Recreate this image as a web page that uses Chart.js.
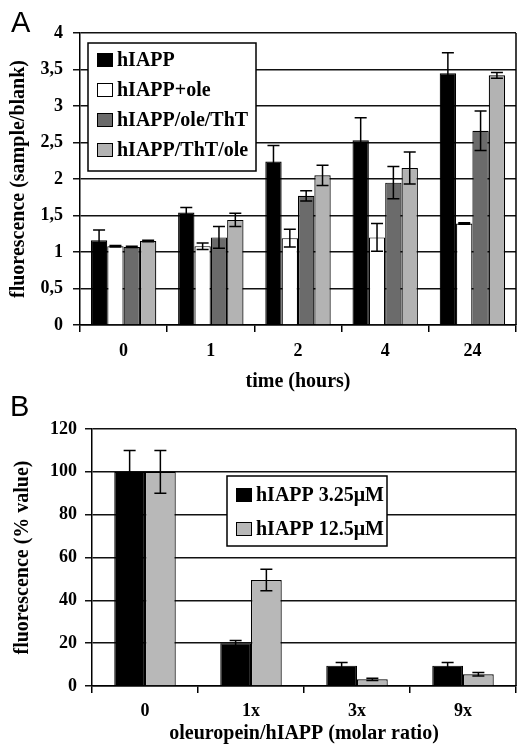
<!DOCTYPE html>
<html>
<head>
<meta charset="utf-8">
<script src="https://cdn.jsdelivr.net/npm/chart.js@4/dist/chart.umd.min.js"></script>
<style>
body{margin:0;background:#fff;}
#wrap{position:relative;width:520px;height:746px;overflow:hidden;}
.panel{position:absolute;left:0;}
.tag{position:absolute;font-family:'Liberation Sans',Arial,sans-serif;font-size:29px;line-height:29px;color:#000;}
</style>
</head>
<body>
<div id="wrap">
  <canvas id="chartA" class="panel" style="top:0" width="520" height="400"></canvas>
  <canvas id="chartB" class="panel" style="top:400px" width="520" height="346"></canvas>
  <div class="tag" style="left:11px;top:8px">A</div>
  <div class="tag" style="left:10px;top:392px">B</div>
</div>
<script>
// panel A : fluorescence vs time
const timeLabels = ['0', '1', '2', '4', '24'];
const hiapp      = [1.16, 1.54, 2.24, 2.53, 3.45];
const hiappErr   = [0.14, 0.07, 0.22, 0.31, 0.28];
const hiappOle   = [1.08, 1.08, 1.19, 1.20, 1.39];
const hiappOleErr= [0.01, 0.045, 0.12, 0.19, 0.01];
const oleTht     = [1.07, 1.20, 1.77, 1.95, 2.66];
const oleThtErr  = [0.01, 0.15, 0.07, 0.22, 0.27];
const thtOle     = [1.15, 1.44, 2.05, 2.15, 3.42];
const thtOleErr  = [0.01, 0.09, 0.14, 0.22, 0.04];

// panel B : fluorescence vs oleuropein ratio
const ratioLabels = ['0', '1x', '3x', '9x'];
const low     = [100, 20, 9.5, 9.5];
const lowErr  = [10, 1.3, 1.5, 1.5];
const high    = [100, 49.5, 3.1, 5.5];
const highErr = [10, 5, 0.5, 0.8];

const FONT = '"Liberation Serif", "Times New Roman", serif';
const tickFont = {family: FONT, size: 18, weight: 'bold'};
const titleFont = {family: FONT, size: 20, weight: 'bold', lineHeight: 1.2};

// error bars (symmetric, black)
const errorBars = {
	id: 'errorBars',
	afterDatasetsDraw(chart){
		const ctx = chart.ctx;
		const y = chart.scales.y;
		chart.data.datasets.forEach((ds, i) => {
			if(!ds.errors) return;
			const meta = chart.getDatasetMeta(i);
			meta.data.forEach((bar, j) => {
				const v = ds.data[j], e = ds.errors[j];
				const top = y.getPixelForValue(v + e);
				const bot = y.getPixelForValue(v - e);
				const x = bar.x, cap = 6;
				ctx.save();
				ctx.strokeStyle = '#000';
				ctx.lineWidth = 1.5;
				ctx.beginPath();
				ctx.moveTo(x, top); ctx.lineTo(x, bot);
				ctx.moveTo(x - cap, top); ctx.lineTo(x + cap, top);
				ctx.moveTo(x - cap, bot); ctx.lineTo(x + cap, bot);
				ctx.stroke();
				ctx.restore();
			});
		});
	}
};

// right side of the plot frame
const frame = {
	id: 'frame',
	beforeDatasetsDraw(chart){
		const a = chart.chartArea, ctx = chart.ctx;
		ctx.save();
		ctx.strokeStyle = '#000';
		ctx.lineWidth = 1.5;
		ctx.beginPath();
		ctx.moveTo(a.right, a.top); ctx.lineTo(a.right, a.bottom);
		ctx.stroke();
		ctx.restore();
	}
};

// boxed legend inside the plot
const boxLegend = {
	id: 'boxLegend',
	afterDraw(chart, args, o){
		const a = chart.chartArea, ctx = chart.ctx;
		const x0 = a.left + o.dx, y0 = a.top + o.dy;
		ctx.save();
		ctx.fillStyle = '#fff';
		ctx.fillRect(x0, y0, o.w, o.h);
		ctx.strokeStyle = '#000';
		ctx.lineWidth = 1.5;
		ctx.strokeRect(x0, y0, o.w, o.h);
		ctx.font = 'bold 20px ' + FONT;
		ctx.textBaseline = 'middle';
		chart.data.datasets.forEach((ds, i) => {
			const cy = y0 + o.first + i * o.step;
			ctx.fillStyle = ds.backgroundColor;
			ctx.fillRect(x0 + 9, cy - 7, 16, 14);
			ctx.lineWidth = 1;
			ctx.strokeRect(x0 + 9.5, cy - 6.5, 15, 13);
			ctx.fillStyle = '#000';
			ctx.fillText(ds.label, x0 + 29, cy + 1);
		});
		ctx.restore();
	}
};

function makeScales(xTitle, yTitle, yMax, yStep, xH, yW, yTitlePad, xTickPad, xTitlePad, yTickPad, fmt){
	return {
		x: {
			offset: true,
			grid: {offset: true, drawOnChartArea: false, tickLength: 7, color: '#000', lineWidth: 1.5},
			border: {color: '#000', width: 1.5},
			ticks: {color: '#000', font: tickFont, padding: xTickPad, maxRotation: 0},
			title: {display: true, text: xTitle, color: '#000', font: titleFont, padding: {top: 0, bottom: xTitlePad}},
			afterFit: s => { s.height = xH; }
		},
		y: {
			min: 0, max: yMax,
			ticks: {stepSize: yStep, color: '#000', font: tickFont, padding: yTickPad, callback: fmt},
			grid: {color: '#111', lineWidth: 1.5, tickLength: 7},
			border: {color: '#000', width: 1.5},
			title: {display: true, text: yTitle, color: '#000', font: titleFont, padding: {top: yTitlePad, bottom: 0}},
			afterFit: s => { s.width = yW; }
		}
	};
}

function barSet(label, data, errors, color){
	return {label: label, data: data, errors: errors, backgroundColor: color,
		borderColor: '#000', borderWidth: 1.2, barPercentage: 1.0};
}

new Chart(document.getElementById('chartA'), {
	type: 'bar',
	data: {
		labels: timeLabels,
		datasets: [
			barSet('hIAPP', hiapp, hiappErr, '#000000'),
			barSet('hIAPP+ole', hiappOle, hiappOleErr, '#ffffff'),
			barSet('hIAPP/ole/ThT', oleTht, oleThtErr, '#6b6b6b'),
			barSet('hIAPP/ThT/ole', thtOle, thtOleErr, '#b3b3b3')
		]
	},
	options: {
		responsive: false,
		animation: false,
		categoryPercentage: 0.75,
		layout: {padding: {top: 33, right: 4, left: 0, bottom: 0}},
		plugins: {
			legend: {display: false},
			tooltip: {enabled: false},
			boxLegend: {dx: 8, dy: 10, w: 168, h: 128, first: 17, step: 30}
		},
		scales: makeScales('time (hours)', 'fluorescence (sample/blank)', 4, 0.5, 75, 80, 7, 9, 6, 10,
			v => String(v).replace('.', ','))
	},
	plugins: [frame, errorBars, boxLegend]
});

new Chart(document.getElementById('chartB'), {
	type: 'bar',
	data: {
		labels: ratioLabels,
		datasets: [
			barSet('hIAPP 3.25\u03bcM', low, lowErr, '#000000'),
			barSet('hIAPP 12.5\u03bcM', high, highErr, '#b8b8b8')
		]
	},
	options: {
		responsive: false,
		animation: false,
		categoryPercentage: 0.58,
		layout: {padding: {top: 29, right: 4, left: 0, bottom: 0}},
		plugins: {
			legend: {display: false},
			tooltip: {enabled: false},
			boxLegend: {dx: 135, dy: 47, w: 160, h: 70, first: 19, step: 34}
		},
		scales: makeScales('oleuropein/hIAPP (molar ratio)', 'fluorescence (% value)', 120, 20, 60, 92, 11, 8, 0, 8,
			v => String(v))
	},
	plugins: [frame, errorBars, boxLegend]
});
</script>
</body>
</html>
